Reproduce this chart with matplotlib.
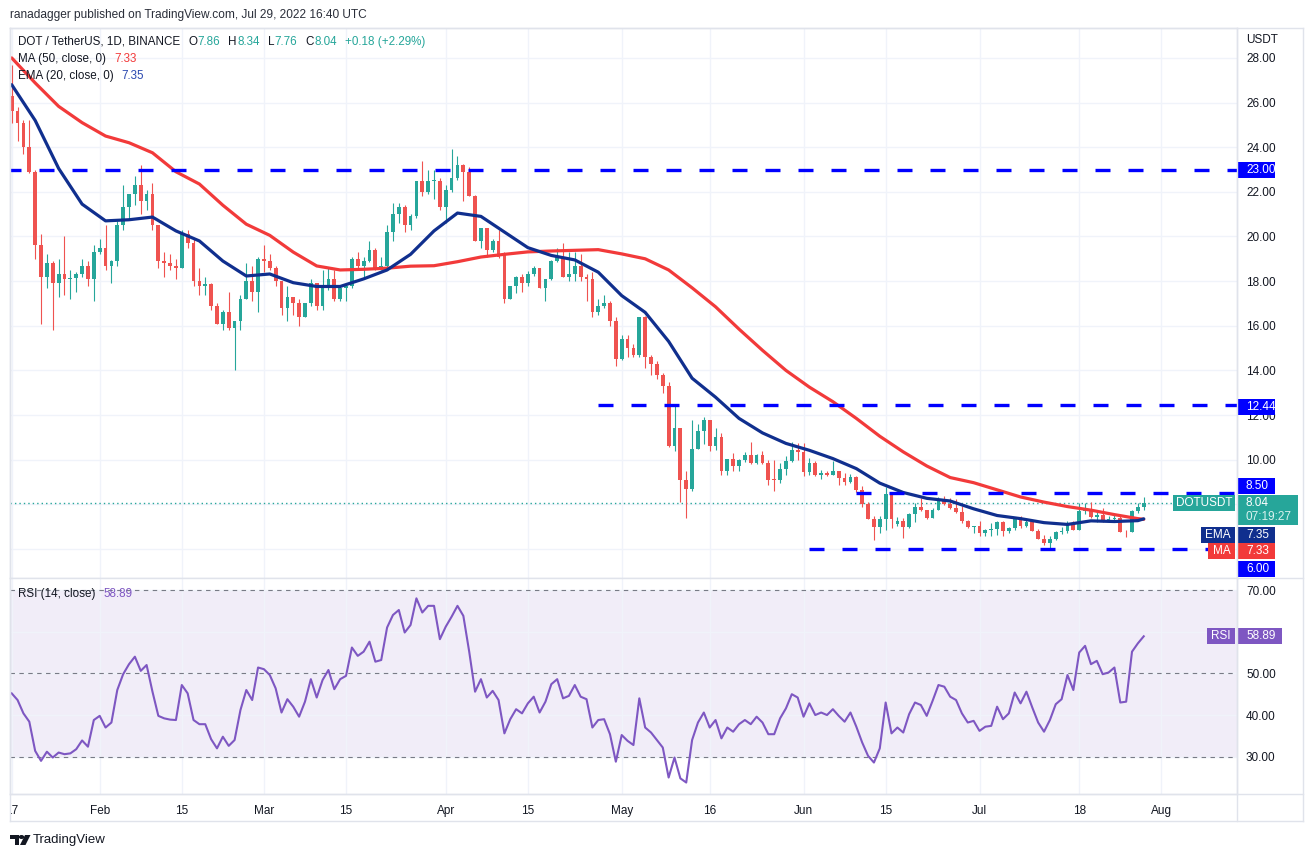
import numpy as np
import pandas as pd
import matplotlib
matplotlib.use("Agg")
import matplotlib.pyplot as plt
from matplotlib.lines import Line2D
from matplotlib.patches import Rectangle, Polygon, Circle
from matplotlib.transforms import Bbox, TransformedBbox, blended_transform_factory

# ---------------- data ----------------
dates = pd.date_range("2022-01-17", "2022-07-29", freq="D")
opens = [26.3, 25.6, 25.1, 24.0, 22.9, 19.6, 18.2, 18.8, 17.9, 18.3,
         18.1, 18.15, 18.3, 18.7, 18.1, 19.3, 19.5, 18.7, 18.9, 20.5,
         21.3, 21.9, 22.3, 21.6, 21.9, 20.5, 18.9, 18.8, 18.7, 18.6,
         20.1, 19.7, 18.0, 17.8, 17.85, 16.9, 16.1, 16.6, 15.9, 16.2,
         17.2, 18.0, 17.5, 19.0, 18.9, 18.6, 18.0, 16.8, 17.3, 17.0,
         16.4, 17.0, 17.9, 16.9, 17.7, 18.1, 17.2, 17.7, 17.8, 19.0,
         18.7, 18.9, 19.4, 18.6, 18.7, 20.2, 21.0, 21.3, 20.5, 20.9,
         22.5, 22.0, 22.5, 22.5, 21.3, 22.1, 22.6, 23.2, 22.9, 21.8,
         19.8, 20.4, 19.4, 19.8, 19.2, 17.2, 17.8, 18.2, 17.9, 18.3,
         18.6, 17.7, 18.1, 18.9, 19.1, 18.2, 18.3, 18.7, 18.2, 18.1,
         16.6, 16.9, 17.0, 16.2, 14.5, 15.4, 15.0, 14.7, 16.4, 14.6,
         14.3, 13.8, 13.3, 10.6, 11.4, 9.1, 8.7, 10.5, 11.3, 11.8,
         10.6, 11.0, 9.5, 10.05, 9.7, 10.0, 10.2, 9.85, 10.2, 9.85,
         9.1, 9.08, 9.6, 9.95, 10.45, 10.33, 9.43, 9.85, 9.33, 9.4,
         9.33, 9.5, 9.2, 8.98, 9.22, 8.63, 8.0, 7.35, 7.0, 7.35,
         8.45, 7.12, 7.27, 7.0, 7.55, 7.87, 7.73, 7.4, 7.75, 8.18,
         8.03, 7.85, 7.65, 7.27, 7.0, 7.04, 6.72, 6.84, 6.9, 7.2,
         6.8, 6.94, 7.35, 7.02, 7.22, 6.82, 6.46, 6.27, 6.46, 6.75,
         6.79, 7.16, 6.87, 7.69, 7.8, 7.45, 7.54, 7.24, 7.34, 7.4,
         6.76, 6.76, 7.69, 7.86]
highs = [27.7, 25.8, 25.2, 25.2, 23.0, 20.1, 19.2, 18.9, 19.0, 20.0,
         18.5, 18.4, 19.0, 18.9, 19.6, 19.9, 20.5, 18.95, 20.7, 22.3,
         21.9, 22.7, 23.2, 22.1, 22.4, 20.5, 19.3, 19.2, 19.0, 20.3,
         20.3, 19.9, 18.6, 18.2, 17.9, 17.0, 16.7, 17.5, 16.2, 17.4,
         18.8, 18.7, 19.1, 19.6, 19.2, 18.7, 18.0, 17.8, 17.3, 17.2,
         17.0, 18.1, 17.9, 18.5, 18.6, 18.5, 17.8, 17.8, 19.1, 19.3,
         19.1, 19.8, 19.5, 19.1, 20.5, 21.5, 21.5, 21.4, 21.0, 22.5,
         23.4, 23.0, 23.0, 22.6, 22.3, 23.9, 23.6, 23.25, 23.1, 21.85,
         20.4, 20.4, 19.9, 20.3, 19.3, 17.8, 18.25, 18.3, 18.45, 18.7,
         18.6, 18.1, 18.95, 19.5, 19.7, 19.3, 19.3, 19.2, 18.3, 18.4,
         17.2, 17.4, 17.1, 16.4, 15.6, 15.6, 15.2, 16.4, 16.45, 14.7,
         14.4, 13.9, 13.5, 12.4, 11.4, 9.5, 11.8, 11.6, 11.9, 11.8,
         11.4, 11.2, 10.05, 10.3, 10.05, 10.35, 10.8, 10.25, 10.4, 10.0,
         10.0, 9.85, 10.15, 10.8, 10.75, 10.75, 10.07, 9.93, 9.55, 9.5,
         9.95, 9.5, 9.4, 9.35, 9.28, 8.8, 8.1, 7.5, 7.5, 8.78,
         8.5, 7.45, 7.4, 7.6, 8.05, 8.3, 7.75, 7.85, 8.35, 8.38,
         8.3, 8.25, 7.94, 7.3, 7.05, 7.24, 6.9, 7.16, 7.24, 7.24,
         7.0, 7.4, 7.46, 7.3, 7.3, 6.9, 6.64, 6.6, 6.8, 6.97,
         7.24, 7.24, 8.06, 8.06, 8.09, 7.73, 7.84, 7.5, 7.55, 7.5,
         6.85, 7.73, 8.06, 8.34]
lows = [25.1, 24.3, 23.7, 22.85, 19.0, 16.1, 17.7, 15.8, 17.3, 17.4,
        17.2, 17.5, 18.2, 17.8, 17.1, 19.2, 18.5, 17.9, 18.7, 20.3,
        20.8, 21.4, 21.0, 21.2, 20.3, 18.6, 18.2, 18.5, 18.1, 18.6,
        19.5, 17.8, 17.4, 17.4, 16.7, 16.1, 15.8, 15.8, 14.0, 15.8,
        17.2, 17.1, 16.6, 18.4, 18.5, 17.8, 16.5, 16.2, 16.5, 16.0,
        16.4, 16.9, 16.7, 16.7, 17.6, 17.1, 17.1, 17.1, 17.7, 18.6,
        18.2, 18.85, 18.5, 18.5, 18.65, 19.8, 20.6, 20.2, 20.3, 20.85,
        21.8, 21.9, 21.7, 21.2, 20.6, 22.0, 22.55, 21.6, 21.8, 19.8,
        19.5, 19.1, 19.3, 19.05, 17.0, 17.2, 17.45, 17.5, 17.8, 18.25,
        17.7, 17.1, 18.05, 18.85, 18.2, 18.0, 18.0, 18.0, 17.1, 16.4,
        16.5, 16.8, 16.0, 14.2, 14.45, 14.6, 14.6, 14.6, 14.1, 13.8,
        13.6, 13.0, 10.55, 10.4, 8.1, 7.4, 8.6, 10.5, 10.7, 10.4,
        10.45, 9.3, 9.3, 9.5, 9.5, 9.9, 9.8, 9.8, 9.8, 8.85,
        8.6, 8.95, 9.3, 9.9, 9.97, 9.25, 9.3, 9.25, 9.15, 9.25,
        9.3, 8.88, 8.85, 8.95, 8.55, 7.9, 7.33, 6.4, 6.7, 6.85,
        6.95, 7.05, 6.5, 6.95, 7.2, 7.7, 7.33, 7.37, 7.74, 7.98,
        7.8, 7.6, 7.16, 6.95, 6.7, 6.57, 6.6, 6.6, 6.64, 6.6,
        6.72, 6.87, 6.94, 6.98, 6.82, 6.45, 6.2, 6.0, 6.42, 6.68,
        6.72, 6.85, 6.87, 7.55, 7.39, 7.2, 7.22, 7.2, 7.28, 6.75,
        6.55, 6.75, 7.6, 7.76]
closes = [25.6, 25.1, 24.0, 22.9, 19.6, 18.2, 18.8, 17.9, 18.3, 18.1,
          18.15, 18.3, 18.7, 18.1, 19.3, 19.5, 18.7, 18.9, 20.5, 21.3,
          21.9, 22.3, 21.6, 21.9, 20.5, 18.9, 18.8, 18.7, 18.6, 20.1,
          19.7, 18.0, 17.8, 17.85, 16.9, 16.1, 16.6, 15.9, 16.2, 17.2,
          18.0, 17.5, 19.0, 18.9, 18.6, 18.0, 16.8, 17.3, 17.0, 16.4,
          17.0, 17.9, 16.9, 17.7, 18.1, 17.2, 17.7, 17.8, 19.0, 18.7,
          18.9, 19.4, 18.6, 18.7, 20.2, 21.0, 21.3, 20.5, 20.9, 22.5,
          22.0, 22.5, 22.55, 21.3, 22.1, 22.6, 23.2, 22.9, 21.8, 19.8,
          20.4, 19.4, 19.8, 19.1, 17.2, 17.8, 18.2, 17.9, 18.3, 18.6,
          17.7, 18.1, 18.9, 19.1, 18.2, 18.3, 18.7, 18.2, 18.1, 16.6,
          16.9, 17.0, 16.2, 14.5, 15.4, 15.0, 14.7, 16.4, 14.6, 14.3,
          13.8, 13.3, 10.6, 11.4, 9.1, 8.7, 10.5, 11.3, 11.8, 10.6,
          11.0, 9.5, 10.05, 9.7, 10.0, 10.2, 9.85, 10.2, 9.85, 9.1,
          9.08, 9.6, 9.95, 10.45, 10.33, 9.43, 9.85, 9.33, 9.4, 9.33,
          9.5, 9.2, 8.98, 9.22, 8.63, 8.0, 7.35, 7.0, 7.35, 8.45,
          7.35, 7.27, 7.0, 7.55, 7.87, 7.73, 7.4, 7.75, 8.18, 8.03,
          7.85, 7.65, 7.27, 7.0, 7.04, 6.72, 6.84, 6.9, 7.2, 6.8,
          6.94, 7.35, 7.02, 7.22, 6.82, 6.46, 6.27, 6.46, 6.75, 6.79,
          7.16, 6.87, 7.69, 7.8, 7.45, 7.54, 7.24, 7.34, 7.4, 6.76,
          6.74, 7.69, 7.86, 8.04]

# moving averages every 4 days (+ last day)
ind_dates = pd.date_range("2022-01-17", periods=49, freq="4D").append(pd.DatetimeIndex(["2022-07-29"]))
ma50 = [28.0, 26.88, 25.83, 25.1, 24.5, 24.2, 23.75, 22.9, 22.35, 21.4,
        20.55, 20.05, 19.3, 18.68, 18.5, 18.53, 18.58, 18.67, 18.69, 18.87,
        19.08, 19.2, 19.31, 19.35, 19.38, 19.41, 19.22, 19.0, 18.5, 17.7,
        16.85, 15.85, 14.9, 14.0, 13.25, 12.6, 11.85, 11.05, 10.35, 9.72,
        9.2, 8.97, 8.65, 8.33, 8.1, 7.9, 7.74, 7.54, 7.36, 7.33]
ema20 = [26.8, 25.2, 23.05, 21.45, 20.7, 20.75, 20.87, 20.25, 19.8, 18.9,
         18.23, 18.32, 17.93, 17.76, 17.76, 18.1, 18.5, 19.2, 20.25, 21.05,
         20.9, 20.2, 19.5, 19.15, 18.95, 18.4, 17.35, 16.6, 15.3, 13.65,
         12.8, 11.85, 11.2, 10.73, 10.42, 10.05, 9.6, 8.95, 8.53, 8.27,
         8.15, 7.8, 7.5, 7.36, 7.18, 7.1, 7.26, 7.23, 7.27, 7.35]
rsi14 = [45.2, 43.6, 40.4, 38.4, 31.4, 29.0, 31.2, 29.8, 31.0, 30.6,
         30.8, 31.8, 33.9, 32.4, 38.8, 39.8, 37.0, 38.2, 46.0, 49.8,
         52.2, 54.0, 50.6, 52.0, 45.6, 39.8, 39.2, 38.9, 38.8, 47.2,
         45.2, 38.8, 37.8, 37.8, 34.2, 32.0, 34.8, 32.6, 34.0, 41.2,
         46.0, 43.6, 51.4, 51.0, 49.6, 46.4, 40.6, 43.8, 42.0, 39.6,
         43.2, 48.6, 44.2, 48.4, 50.8, 46.2, 48.6, 49.4, 56.2, 54.2,
         55.2, 57.6, 52.8, 53.2, 61.0, 64.0, 65.2, 59.8, 61.6, 68.0,
         64.6, 66.2, 66.2, 58.2, 61.2, 63.6, 66.2, 63.8, 55.2, 45.6,
         48.6, 44.2, 45.8, 43.6, 35.6, 39.0, 41.4, 40.4, 42.8, 44.4,
         40.6, 43.2, 47.4, 48.6, 44.0, 44.6, 47.2, 44.4, 43.8, 37.0,
         38.8, 39.0, 35.4, 28.8, 35.2, 33.8, 32.8, 44.0, 37.0, 35.8,
         34.0, 32.2, 25.0, 29.8, 24.8, 23.8, 34.0, 38.2, 40.6, 37.0,
         38.8, 34.4, 37.0, 36.0, 37.8, 38.8, 37.8, 39.6, 38.2, 35.4,
         35.4, 39.2, 41.6, 45.0, 44.2, 39.6, 42.8, 40.0, 40.6, 40.0,
         41.4, 39.8, 38.4, 40.6, 37.2, 33.4, 30.2, 28.6, 32.0, 43.0,
         35.6, 37.0, 35.8, 40.2, 43.0, 42.4, 39.8, 43.4, 47.2, 46.8,
         44.4, 43.6, 40.4, 38.2, 38.6, 36.2, 37.2, 37.4, 42.0, 39.0,
         40.4, 45.4, 42.8, 45.6, 41.8, 38.2, 36.0, 38.8, 42.6, 43.8,
         49.6, 46.0, 55.0, 56.6, 52.2, 53.0, 49.8, 50.2, 51.4, 43.0,
         43.2, 55.2, 57.2, 58.89]

levels = [23.00, 12.44, 8.50, 6.00]
level_starts = ["2022-01-16", "2022-04-27", "2022-06-10", "2022-06-02"]
tick_dates = ["2022-01-17", "2022-02-01", "2022-02-15", "2022-03-01", "2022-03-15",
              "2022-04-01", "2022-04-15", "2022-05-01", "2022-05-16", "2022-06-01",
              "2022-06-15", "2022-07-01", "2022-07-18", "2022-08-01"]
tick_labels = ["17", "Feb", "15", "Mar", "15", "Apr", "15", "May", "16", "Jun",
               "15", "Jul", "18", "Aug"]
price_ticks = [6, 8, 10, 12, 14, 16, 18, 20, 22, 24, 26, 28]
price_tick_labels = ["", "", "10.00", "12.00", "14.00", "16.00", "18.00", "20.00",
                     "22.00", "24.00", "26.00", "28.00"]
rsi_ticks = [30, 40, 50, 60, 70]
rsi_tick_labels = ["30.00", "40.00", "50.00", "", "70.00"]

# ---------------- styling ----------------
W, H = 1314, 857
UP, DN = "#26a69a", "#ef5350"
MA_C, EMA_C, LVL_C, RSI_C = "#f23a3a", "#102f8e", "#0000ff", "#7e57c2"
TXT, GRID, FRAME = "#131722", "#f0f3fa", "#e0e3eb"
plt.rcParams["font.family"] = ["Liberation Sans", "DejaVu Sans"]

fig = plt.figure(figsize=(W / 100, H / 100), dpi=100, facecolor="white")

def fx(x):
    return x / W

def fy(y):
    return 1 - y / H

L, R = 10, 1237
ax1 = fig.add_axes([fx(L), fy(578), fx(R - L), (578 - 28) / H])
ax2 = fig.add_axes([fx(L), fy(794), fx(R - L), (794 - 578) / H])

start = dates[0]
x = np.array([(d - start).days for d in dates])
o, h, l, c = map(np.array, (opens, highs, lows, closes))
xlim = (-0.29, 208.9)

for ax in (ax1, ax2):
    ax.set_xlim(*xlim)
    ax.set_axisbelow(True)
    for s in ax.spines.values():
        s.set_color(FRAME)
        s.set_linewidth(1)
    tick_idx = [(pd.Timestamp(d) - start).days for d in tick_dates]
    ax.set_xticks(tick_idx)
    ax.grid(True, color=GRID, linewidth=1)
    ax.yaxis.tick_right()
    ax.tick_params(axis="y", length=0, pad=6.5, labelsize=8.5, labelcolor=TXT)
    ax.tick_params(axis="x", length=0)

# price pane
ax1.set_ylim(4.70, 29.34)
ax1.set_yticks(price_ticks)
ax1.set_yticklabels(price_tick_labels)
ax1.tick_params(axis="x", labelbottom=False)

cols = np.where(c >= o, UP, DN)
ax1.vlines(x, l, h, colors=cols, linewidth=0.8, zorder=3)
ax1.bar(x, np.maximum(np.abs(c - o), 0.04), bottom=np.minimum(o, c), width=0.64,
        color=cols, linewidth=0, zorder=4)

ind_x = [(d - start).days for d in ind_dates]
ax1.plot(ind_x, ma50, color=MA_C, lw=2.3, zorder=5, solid_capstyle="round")
ax1.plot(ind_x, ema20, color=EMA_C, lw=2.3, zorder=5, solid_capstyle="round")

for lv, st in zip(levels, level_starts):
    ax1.hlines(lv, (pd.Timestamp(st) - start).days, xlim[1], colors=LVL_C,
               linewidth=2.4, linestyles=(0, (4.5, 5.4)), zorder=6)
ax1.axhline(c[-1], color=UP, lw=1.0, ls=(0, (1, 2.2)), zorder=2)

# RSI pane
ax2.set_ylim(21.05, 72.88)
ax2.set_yticks(rsi_ticks)
ax2.set_yticklabels(rsi_tick_labels)
ax2.set_xticklabels(tick_labels)
ax2.tick_params(axis="x", pad=8, labelsize=8.5, labelcolor=TXT)
ax2.axhspan(30, 70, color=RSI_C, alpha=0.1, lw=0, zorder=0.5)
for lv in (70, 50, 30):
    ax2.axhline(lv, color="#787b86", lw=0.8, ls=(0, (4, 4)), zorder=1.5)
ax2.plot(x, rsi14, color=RSI_C, lw=1.5, zorder=4)

first = ax2.get_xticklabels()[0]
first.set_clip_box(TransformedBbox(Bbox([[fx(L), 0], [1, 1]]), fig.transFigure))
first.set_clip_on(True)

# ---------------- boxes on price scale ----------------
def box(ax, yval, text, fc, dy_px=0, side="right", width_px=38, h_px=16,
        tc="white", fs=8.5):
    y0, y1 = ax.get_ylim()
    hpx = ax.get_position().height * H
    upp = (y1 - y0) / hpx
    axw = ax.get_position().width * W
    tr = blended_transform_factory(ax.transAxes, ax.transData)
    yc = yval + dy_px * upp
    x0 = 1.0 if side == "right" else 1.0 - (width_px + 2) / axw
    ax.add_patch(Rectangle((x0, yc - h_px * upp / 2), width_px / axw, h_px * upp,
                           transform=tr, facecolor=fc, edgecolor="none",
                           clip_on=False, zorder=30))
    if text is None:
        return upp, axw, tr
    if side == "right":
        ax.text(1.0 + 9 / axw, yc, text, transform=tr, ha="left", va="center",
                color=tc, fontsize=fs, zorder=31, clip_on=False)
    else:
        ax.text(x0 + width_px / axw / 2, yc, text, transform=tr, ha="center",
                va="center", color=tc, fontsize=fs, zorder=31, clip_on=False)
    return upp, axw, tr

box(ax1, levels[0], f"{levels[0]:.2f}", LVL_C)
box(ax1, levels[1], f"{levels[1]:.2f}", LVL_C, dy_px=-1.5)
box(ax1, levels[2], f"{levels[2]:.2f}", LVL_C, dy_px=7)
box(ax1, levels[3], f"{levels[3]:.2f}", LVL_C, dy_px=-20)
# current price box (two lines)
upp, axw, tr = box(ax1, c[-1], None, UP, dy_px=-6.3, width_px=61, h_px=30)
ax1.text(1.0 + 9 / axw, c[-1] + 0.7 * upp, f"{c[-1]:.2f}", transform=tr,
         ha="left", va="center", color="white", fontsize=8.5, zorder=31, clip_on=False)
ax1.text(1.0 + 9 / axw, c[-1] - 13.5 * upp, "07:19:27", transform=tr,
         ha="left", va="center", color="#d9f2ef", fontsize=8.5, zorder=31, clip_on=False)
box(ax1, c[-1], "DOTUSDT", UP, dy_px=0.7, side="left", width_px=62)
box(ax1, ema20[-1], "EMA", EMA_C, dy_px=-16, side="left", width_px=34)
box(ax1, ema20[-1], f"{ema20[-1]:.2f}", EMA_C, dy_px=-16)
box(ax1, ma50[-1], "MA", MA_C, dy_px=-31.5, side="left", width_px=27)
box(ax1, ma50[-1], f"{ma50[-1]:.2f}", MA_C, dy_px=-31.5)
box(ax2, rsi14[-1], "RSI", RSI_C, side="left", width_px=28)
box(ax2, rsi14[-1], f"{rsi14[-1]:.2f}", RSI_C, width_px=45)

# ---------------- frame lines ----------------
def fline(x0, y0, x1, y1, col=FRAME, lw=1):
    fig.add_artist(Line2D([fx(x0), fx(x1)], [fy(y0), fy(y1)], color=col, lw=lw,
                          transform=fig.transFigure))

fline(L, 28, 1303, 28)
fline(1303, 28, 1303, 821)
fline(L, 821, 1303, 821)
fline(L, 28, L, 821)
fline(R, 578, 1303, 578)
fline(L, 794, 1303, 794)
fline(R, 28, R, 821)

# ---------------- texts ----------------
fig.text(fx(10), fy(15), "ranadagger published on TradingView.com, Jul 29, 2022 16:40 UTC",
         fontsize=8.6, color="#2a2e39", ha="left", va="center")
fig.text(fx(1246), fy(40), "USDT", fontsize=8.5, color=TXT, ha="left", va="center")

renderer = fig.canvas.get_renderer()

def seq(x0, y, pieces, fs=8.4):
    xx = x0
    for txt, col, gap in pieces:
        t = fig.text(fx(xx), fy(y), txt, color=col, fontsize=fs, ha="left", va="center")
        xx += t.get_window_extent(renderer=renderer).width + gap

seq(18, 42, [("DOT / TetherUS, 1D, BINANCE", TXT, 8),
             ("O", TXT, 0.5), (f"{opens[-1]:.2f}", UP, 8),
             ("H", TXT, 0.5), (f"{highs[-1]:.2f}", UP, 8),
             ("L", TXT, 0.5), (f"{lows[-1]:.2f}", UP, 8),
             ("C", TXT, 0.5), (f"{closes[-1]:.2f}", UP, 8),
             ("+0.18 (+2.29%)", UP, 0)])
seq(18, 59, [("MA (50, close, 0)", TXT, 8), (f"{ma50[-1]:.2f}", MA_C, 0)])
seq(18, 76, [("EMA (20, close, 0)", TXT, 8), (f"{ema20[-1]:.2f}", "#2a48b0", 0)])
seq(18, 594, [("RSI (14, close)", TXT, 8), (f"{rsi14[-1]:.2f}", RSI_C, 0)])

# TradingView logo
def fpoly(pts, col="#131722"):
    fig.add_artist(Polygon([(fx(a), fy(b)) for a, b in pts], closed=True,
                           facecolor=col, edgecolor="none", transform=fig.transFigure))

fpoly([(10, 835), (19, 835), (19, 845), (15, 845), (15, 838.5), (10, 838.5)])
fig.add_artist(Circle((fx(21.5), fy(837)), 2.0 / W, color="#131722",
                      transform=fig.transFigure))
fpoly([(25, 835), (30.5, 835), (25.5, 845), (20, 845)])
fig.text(fx(33), fy(840), "TradingView", fontsize=9.5, color=TXT, ha="left", va="center")

fig.savefig("out.png", dpi=100, facecolor="white")
